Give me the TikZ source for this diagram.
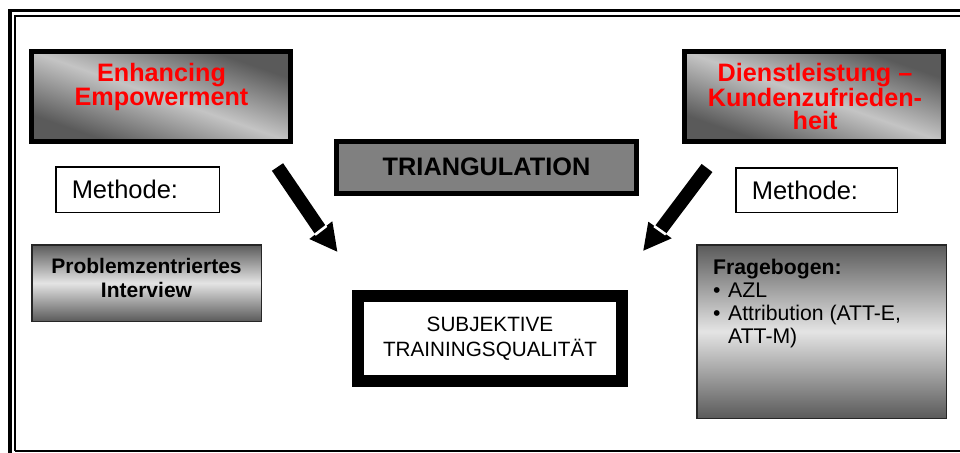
\documentclass[tikz,border=0pt]{standalone}
\usepackage{fontspec}
\setmainfont{Liberation Sans}
\usetikzlibrary{calc}
\definecolor{shdark}{HTML}{5A5A5A}
\definecolor{shlight}{HTML}{C4C4C4}
\definecolor{vdark}{HTML}{5A5A5A}
\definecolor{vlight}{HTML}{E4E4E4}
\definecolor{midgray}{HTML}{808080}
\begin{document}
\begin{tikzpicture}[x=1pt,y=-1pt,
  diagshade/.style={top color=shdark, bottom color=shdark, middle color=shlight, shading angle=-45},
  titlebox/.style={draw=black, line width=5pt, inner sep=0pt,
    minimum width=259pt, minimum height=90pt},
  titletext/.style={anchor=north, text=red, align=center, inner sep=0pt,
    font=\fontsize{25.2}{23.6}\selectfont\bfseries},
  methbox/.style={draw=black, line width=1.5pt, fill=white, inner xsep=16pt, inner ysep=0pt,
    align=left, font=\fontsize{25.5}{26}\selectfont},
  gradbox/.style={draw=black!85, line width=1.5pt, top color=vdark, bottom color=vdark,
    middle color=vlight, inner sep=0pt},
  arrowshaft/.style={line width=13.5pt, line cap=butt},
  notch/.style={white, line width=2.6pt}]
\useasboundingbox (0,0) rectangle (960,452);

% double frame around the sheet
\draw[line width=3.4pt] (10,470) -- (10,10.7) -- (980,10.7);
\draw[line width=1.8pt] (15.1,451) -- (15.1,15.9) -- (980,15.9);
\draw[line width=1.8pt] (15.1,451) -- (980,451);

% headings: diagonal shading stretched corner to corner, then the framed box
\coordinate (enhc) at (161,96.5);
\coordinate (dlsc) at (814,96.5);
\begin{scope}[transform canvas={shift={(enhc)}, xscale=2.8778}]
  \shade[diagshade] (-45,-45) rectangle (45,45);
\end{scope}
\begin{scope}[transform canvas={shift={(dlsc)}, xscale=2.8778}]
  \shade[diagshade] (-45,-45) rectangle (45,45);
\end{scope}
\node[titlebox] (enh) at (enhc) {};
\node[titletext] (enhtxt) at (161.5,63.5) {Enhancing\\Empowerment};
\node[titlebox] (dls) at (dlsc) {};
\node[titletext] (dlstxt) at (815,63.3) {Dienstleistung –\\Kundenzufrieden-\\heit};

\node[draw=black, line width=5pt, fill=midgray, minimum width=300pt, minimum height=52pt,
  inner sep=0pt, font=\fontsize{25.3}{24}\selectfont\bfseries] (tri) at (486.5,167) {TRIANGULATION};

% method labels
\node[methbox, text width=131.5pt, minimum height=45.5pt] (mleft) at (137.5,189.5) {Methode:};
\node[methbox, text width=129.5pt, minimum height=44.5pt] (mright) at (816.5,190) {Methode:};

% method boxes
\node[gradbox, minimum width=229.5pt, minimum height=76.5pt] (prob) at (146.5,283) {};
\node[anchor=north, align=center, inner sep=0pt,
  font=\fontsize{21}{24}\selectfont\bfseries] (probtxt) at (146.5,258.3)
  {Problemzentriertes\\Interview};

\node[gradbox, minimum width=249.5pt, minimum height=173.5pt] (frag) at (821.5,331.5) {};
\node[anchor=north west, align=left, inner sep=0pt,
  font=\fontsize{21.2}{23.2}\selectfont] (fragtxt) at (713,258.8)
  {\textbf{Fragebogen:}\\
   \makebox[15pt][l]{•}AZL\\
   \makebox[15pt][l]{•}Attribution (ATT-E,\\
   \hspace*{15pt}ATT-M)};

% result
\node[draw=black, line width=12pt, fill=white, minimum width=264pt, minimum height=85pt,
  inner sep=0pt, align=center, font=\fontsize{20.7}{25}\selectfont] (subj) at (490,338.5)
  {SUBJEKTIVE\\TRAININGSQUALITÄT};

% arrows
\coordinate (la0) at (277.5,167);
\coordinate (la1) at (320.7,230.5);
\coordinate (lat) at (337.3,251.7);
\coordinate (lh1) at (309.3,239);
\coordinate (lh2) at (332.3,221.3);
\draw[arrowshaft] (la0) -- (la1);
\fill (lh1) -- (lat) -- (lh2) -- cycle;
\draw[notch] ($(la1)!0.5!(lh1)$) -- ($(la1)!0.5!(lh2)$);

\coordinate (ra0) at (707,168);
\coordinate (ra1) at (660,230.5);
\coordinate (rat) at (643.3,250.7);
\coordinate (rh1) at (648.3,221.7);
\coordinate (rh2) at (671.7,238.3);
\draw[arrowshaft] (ra0) -- (ra1);
\fill (rh1) -- (rat) -- (rh2) -- cycle;
\draw[notch] ($(ra1)!0.5!(rh1)$) -- ($(ra1)!0.5!(rh2)$);
\end{tikzpicture}
\end{document}
